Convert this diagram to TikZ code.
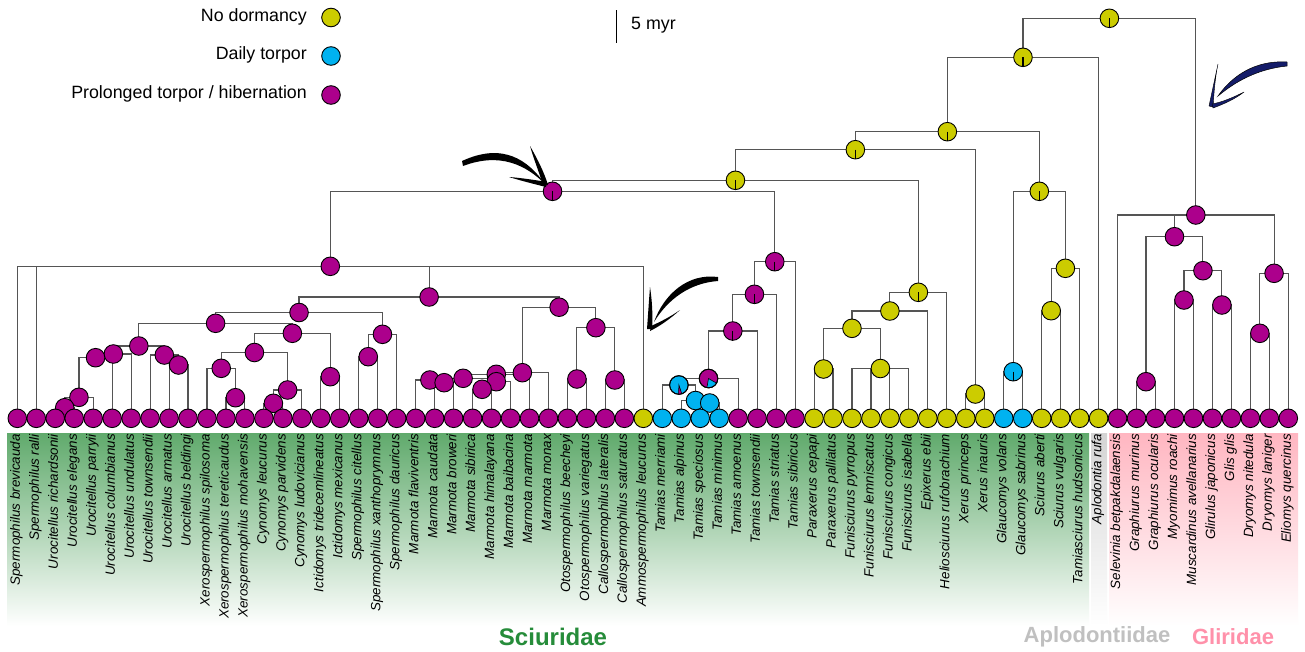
\documentclass[tikz,border=0pt]{standalone}
\usepackage{fontspec}
\setmainfont{Liberation Sans}
\definecolor{cyel}{RGB}{204,204,0}
\definecolor{cblu}{RGB}{0,178,240}
\definecolor{cmag}{RGB}{172,0,140}
\definecolor{cbr}{RGB}{85,85,85}
\definecolor{cgrn}{RGB}{96,170,108}
\definecolor{cgrntxt}{RGB}{38,140,58}
\definecolor{cpink}{RGB}{255,182,193}
\definecolor{cpinktxt}{RGB}{255,145,170}
\definecolor{cgray}{RGB}{212,212,212}
\definecolor{cgraytxt}{RGB}{192,192,192}
\definecolor{cnavy}{RGB}{20,28,105}
\pgfdeclarelayer{bg}
\pgfsetlayers{bg,main}
\begin{document}
\begin{tikzpicture}[x=1pt,y=-1pt,
 dot/.style={circle,draw=black,line width=0.9pt,minimum size=18.6pt,inner sep=0pt},
 yel/.style={dot,fill=cyel}, blu/.style={dot,fill=cblu}, mag/.style={dot,fill=cmag},
 br/.style={draw=cbr,line width=1.1pt},
 tickm/.style={draw=black,line width=1.3pt},
 tiplab/.style={rotate=90,anchor=mid east,inner sep=0pt,font=\fontsize{13.4}{13.4}\selectfont\itshape},
 leg/.style={anchor=east,inner sep=0pt,font=\fontsize{17.8}{17.8}\selectfont},
 fam/.style={inner sep=0pt,font=\fontsize{22}{22}\selectfont\bfseries}]

\useasboundingbox (0,0) rectangle (1305,651);

% internal nodes (parents first)
\node[yel] (nRoot) at (1109.4,18.3) {};
\node[yel] (nA) at (1022.97,57.3) {};
\node[yel] (nB) at (947.34,131.7) {};
\node[yel] (nC) at (855.37,149.7) {};
\node[yel] (nD) at (735.45,180.3) {};
\node[mag] (nX0) at (552.53,191.3) {};
\node[mag] (nQ) at (330.3,266.3) {};
\node[mag] (nR) at (429.09,297) {};
\node[mag] (nS) at (299.04,312.5) {};
\node[mag] (nU) at (215.6,323.3) {};
\node[mag] (ne) at (138.83,346) {};
\node[mag] (nd) at (113.34,354) {};
\node[mag] (nc) at (95.55,357.7) {};
\node[mag] (nb) at (78.95,397.3) {};
\node[mag] (na) at (64.73,407.7) {};
\node[mag] (nf) at (164.32,355) {};
\node[mag] (ng) at (178.55,365) {};
\node[mag] (nW) at (292.37,333.3) {};
\node[mag] (nX) at (254.43,352.5) {};
\node[mag] (nZ) at (221.23,368.3) {};
\node[mag] (nAB) at (235.46,397.7) {};
\node[mag] (nAA) at (287.62,390) {};
\node[mag] (nAC) at (273.40,403.3) {};
\node[mag] (nY) at (330.31,376.7) {};
\node[mag] (nV) at (382.47,334.3) {};
\node[mag] (nAD) at (368.25,356.7) {};
\node[mag] (nT) at (559.13,307.2) {};
\node[mag] (nAE) at (522.38,372.7) {};
\node[mag] (nAI) at (496.3,374.3) {};
\node[mag] (nBJ) at (463.1,378.3) {};
\node[mag] (nBK) at (429.9,380) {};
\node[mag] (nBL) at (444.13,382.7) {};
\node[mag] (nAJ) at (496.3,381.7) {};
\node[mag] (nBM) at (482.07,389.3) {};
\node[mag] (nAF) at (595.89,327.7) {};
\node[mag] (nAG) at (576.92,379) {};
\node[mag] (nAH) at (614.86,380) {};
\node[mag] (nK) at (774.76,261.7) {};
\node[mag] (nL) at (754.45,294.3) {};
\node[mag] (nM) at (732.8,331) {};
\node[mag] (nN) at (708.5,378.5) {};
\node[blu] (nO) at (678.9,385) {};
\node[blu] (nP) at (695.5,400.5) {};
\node[blu] (nQp) at (709.7,403) {};
\node[yel] (nF) at (918.37,292.3) {};
\node[yel] (nG) at (889.9,311) {};
\node[yel] (nH) at (851.97,328.3) {};
\node[yel] (nI) at (823.5,369) {};
\node[yel] (nJ) at (880.4,368.5) {};
\node[yel] (nXe) at (975.29,394) {};
\node[yel] (nE) at (1039.3,191.3) {};
\node[blu] (nGl) at (1013.2,371.7) {};
\node[yel] (nSS) at (1065.4,268.3) {};
\node[yel] (nSc) at (1051.17,310.7) {};
\node[mag] (nG0) at (1195.8,215) {};
\node[mag] (nGA) at (1174.47,236.7) {};
\node[mag] (nGr) at (1146.0,381.7) {};
\node[mag] (nGC) at (1202.93,270.7) {};
\node[mag] (nMM) at (1183.96,300) {};
\node[mag] (nGG) at (1221.9,305) {};
\node[mag] (nGB) at (1274.07,273.3) {};
\node[mag] (nDr) at (1259.84,333.3) {};

% tips and labels
\foreach \c/\lab [count=\i from 0] in {
 mag/Spermophilus brevicauda, mag/Spermophilus ralli, mag/Urocitellus richardsonii,
 mag/Urocitellus elegans, mag/Urocitellus parryii, mag/Urocitellus columbianus,
 mag/Urocitellus undulatus, mag/Urocitellus townsendii, mag/Urocitellus armatus,
 mag/Urocitellus beldingi, mag/Xerospermophilus spilosoma, mag/Xerospermophilus tereticaudus,
 mag/Xerospermophilus mohavensis, mag/Cynomys leucurus, mag/Cynomys parvidens,
 mag/Cynomys ludovicianus, mag/Ictidomys tridecemlineatus, mag/Ictidomys mexicanus,
 mag/Spermophilus citellus, mag/Spermophilus xanthoprymnus, mag/Spermophilus dauricus,
 mag/Marmota flaviventris, mag/Marmota caudata, mag/Marmota broweri,
 mag/Marmota sibirica, mag/Marmota himalayana, mag/Marmota baibacina,
 mag/Marmota marmota, mag/Marmota monax, mag/Otospermophilus beecheyi,
 mag/Otospermophilus variegatus, mag/Callospermophilus lateralis, mag/Callospermophilus saturatus,
 yel/Ammospermophilus leucurus, blu/Tamias merriami, blu/Tamias alpinus,
 blu/Tamias speciosus, blu/Tamias minimus, mag/Tamias amoenus,
 mag/Tamias townsendii, mag/Tamias striatus, mag/Tamias sibiricus,
 yel/Paraxerus cepapi, yel/Paraxerus palliatus, yel/Funisciurus pyrropus,
 yel/Funisciurus lemniscatus, yel/Funisciurus congicus, yel/Funisciurus isabella,
 yel/Epixerus ebii, yel/Heliosciurus rufobrachium, yel/Xerus princeps,
 yel/Xerus inauris, blu/Glaucomys volans, blu/Glaucomys sabrinus,
 yel/Sciurus aberti, yel/Sciurus vulgaris, yel/Tamiasciurus hudsonicus,
 yel/Aplodontia rufa, mag/Selevinia betpakdalaensis, mag/Graphiurus murinus,
 mag/Graphiurus ocularis, mag/Myomimus roachi, mag/Muscardinus avellanarius,
 mag/Glirulus japonicus, mag/Glis glis, mag/Dryomys nitedula,
 mag/Dryomys laniger, mag/Eliomys quercinus} {
  \node[\c] (t\i) at ({17.3+18.97*\i},418.3) {};
  \node[tiplab] (l\i) at ({17.3+18.97*\i},434) {\lab};
}

% background fills and connectors, underneath everything
\begin{pgfonlayer}{bg}
\fill[white] (0,0) rectangle (1305,651);
\shade[top color=cgrn, bottom color=white] (7,433) rectangle (1089,626);
\shade[top color=cgray, bottom color=white] (1091,433) rectangle (1107,626);
\shade[top color=cpink, bottom color=white] (1109,433) rectangle (1298,626);
\foreach \ch/\pa in {nA/nRoot, nG0/nRoot, nB/nA, t57/nA, nC/nB, nE/nB, nD/nC, nXe/nC,
 nX0/nD, nF/nD, nQ/nX0, nK/nX0, t0/nQ, t1/nQ, nR/nQ, t33/nQ, nS/nR, nT/nR,
 nU/nS, nV/nS, ne/nU, nW/nU, nd/ne, nf/ne, nc/nd, t6/nd, nb/nc, t5/nc,
 na/nb, t4/nb, t2/na, t3/na, t7/nf, ng/nf, t8/ng, t9/ng, nX/nW, nY/nW,
 nZ/nX, nAA/nX, t10/nZ, nAB/nZ, t11/nAB, t12/nAB, nAC/nAA, t15/nAA,
 t13/nAC, t14/nAC, t16/nY, t17/nY, nAD/nV, t20/nV, t18/nAD, t19/nAD,
 nAE/nT, nAF/nT, nAI/nAE, t28/nAE, nBJ/nAI, t27/nAI, nBK/nBJ, nAJ/nBJ,
 t21/nBK, nBL/nBK, t22/nBL, t23/nBL, nBM/nAJ, t26/nAJ, t24/nBM, t25/nBM,
 nAG/nAF, nAH/nAF, t29/nAG, t30/nAG, t31/nAH, t32/nAH,
 nL/nK, t41/nK, nM/nL, t40/nL, nN/nM, t39/nM, nO/nN, t38/nN,
 t34/nO, nP/nO, t35/nP, nQp/nP, t36/nQp, t37/nQp,
 nG/nF, t49/nF, nH/nG, t48/nG, nI/nH, nJ/nH, t42/nI, t43/nI,
 t44/nJ, t45/nJ, t46/nJ, t47/nJ, t50/nXe, t51/nXe,
 nGl/nE, nSS/nE, t52/nGl, t53/nGl, nSc/nSS, t56/nSS, t54/nSc, t55/nSc,
 t58/nG0, nGA/nG0, nGB/nG0, nGr/nGA, nGC/nGA, t59/nGr, t60/nGr,
 nMM/nGC, nGG/nGC, t61/nMM, t62/nMM, t63/nGG, t64/nGG,
 nDr/nGB, t67/nGB, t65/nDr, t66/nDr}
 \draw[br] (\ch.center) |- (\pa.center);
\end{pgfonlayer}

% pie ticks
\foreach \n in {nRoot,nA,nB,nC,nD,nX0,nE,nF,nK,nL,nM,nGl}
 \draw[tickm] (\n.center) -- (\n.south);
\fill[cblu,draw=black,line width=0.6pt] (nN.center) -- ++(-100:9.3pt) arc[start angle=-100,end angle=-30,radius=9.3pt] -- cycle;
\draw[black,line width=0.9pt] (nN.center) circle[radius=9.3pt];
\fill[cmag,draw=black,line width=0.6pt] (nO.center) -- ++(-92:9.3pt) arc[start angle=-92,end angle=-72,radius=9.3pt] -- cycle;
\draw[black,line width=0.9pt] (nO.center) circle[radius=9.3pt];

% legend
\node[leg] (lg1) at (307,17) {No dormancy};
\node[yel] (lc1) at (331,17.5) {};
\node[leg] (lg2) at (307,55) {Daily torpor};
\node[blu] (lc2) at (331,56) {};
\node[leg] (lg3) at (307,94) {Prolonged torpor / hibernation};
\node[mag] (lc3) at (331,95) {};

% scale bar
\coordinate (sbt) at (616,10);
\coordinate (sbb) at (616,43);
\draw[line width=1pt] (sbt) -- (sbb);
\node[anchor=west,inner sep=0pt,font=\fontsize{17.8}{17.8}\selectfont] (sbl) at (631,25) {5 myr};

% brush arrows
\fill[black] (462,161) .. controls (503,142) and (528,160) .. (545,184) .. controls (526,165) and (500,152) .. (463,166) -- cycle;
\fill[black] (530,146) .. controls (538,160) and (544,172) .. (548,185) -- (543,185) .. controls (539,172) and (534,160) .. (530,146) -- cycle;
\fill[black] (509,177) .. controls (522,178) and (535,180) .. (547,182) -- (546,187) .. controls (534,184) and (522,181) .. (509,177) -- cycle;

\fill[black] (718,277) .. controls (688,273) and (664,294) .. (654,322) .. controls (668,299) and (690,283) .. (718,281) -- cycle;
\fill[black] (650,287) .. controls (652,300) and (653,315) .. (652,329) -- (647,329) .. controls (648,315) and (649,300) .. (650,287) -- cycle;
\fill[black] (680,310) .. controls (670,317) and (660,322) .. (651,326) -- (650,331) .. controls (660,326) and (670,319) .. (680,310) -- cycle;

\filldraw[fill=cnavy,draw=black,line width=0.5pt] (1287,62) .. controls (1255,60) and (1232,76) .. (1218,96) .. controls (1236,81) and (1258,69) .. (1287,66) -- cycle;
\filldraw[fill=cnavy,draw=black,line width=0.4pt] (1218,64) .. controls (1215,78) and (1214,92) .. (1213,107) -- (1209,106) .. controls (1212,92) and (1215,78) .. (1218,64) -- cycle;
\filldraw[fill=cnavy,draw=black,line width=0.4pt] (1244,92) .. controls (1234,97) and (1223,102) .. (1212,104) -- (1213,108) .. controls (1224,104) and (1235,99) .. (1244,92) -- cycle;

% family names
\node[fam,text=cgrntxt,font=\fontsize{24}{24}\selectfont\bfseries] (fs) at (553,637) {Sciuridae};
\node[fam,text=cgraytxt] (fa) at (1097,637) {Aplodontiidae};
\node[fam,text=cpinktxt] (fg) at (1233,637) {Gliridae};
\end{tikzpicture}
\end{document}
